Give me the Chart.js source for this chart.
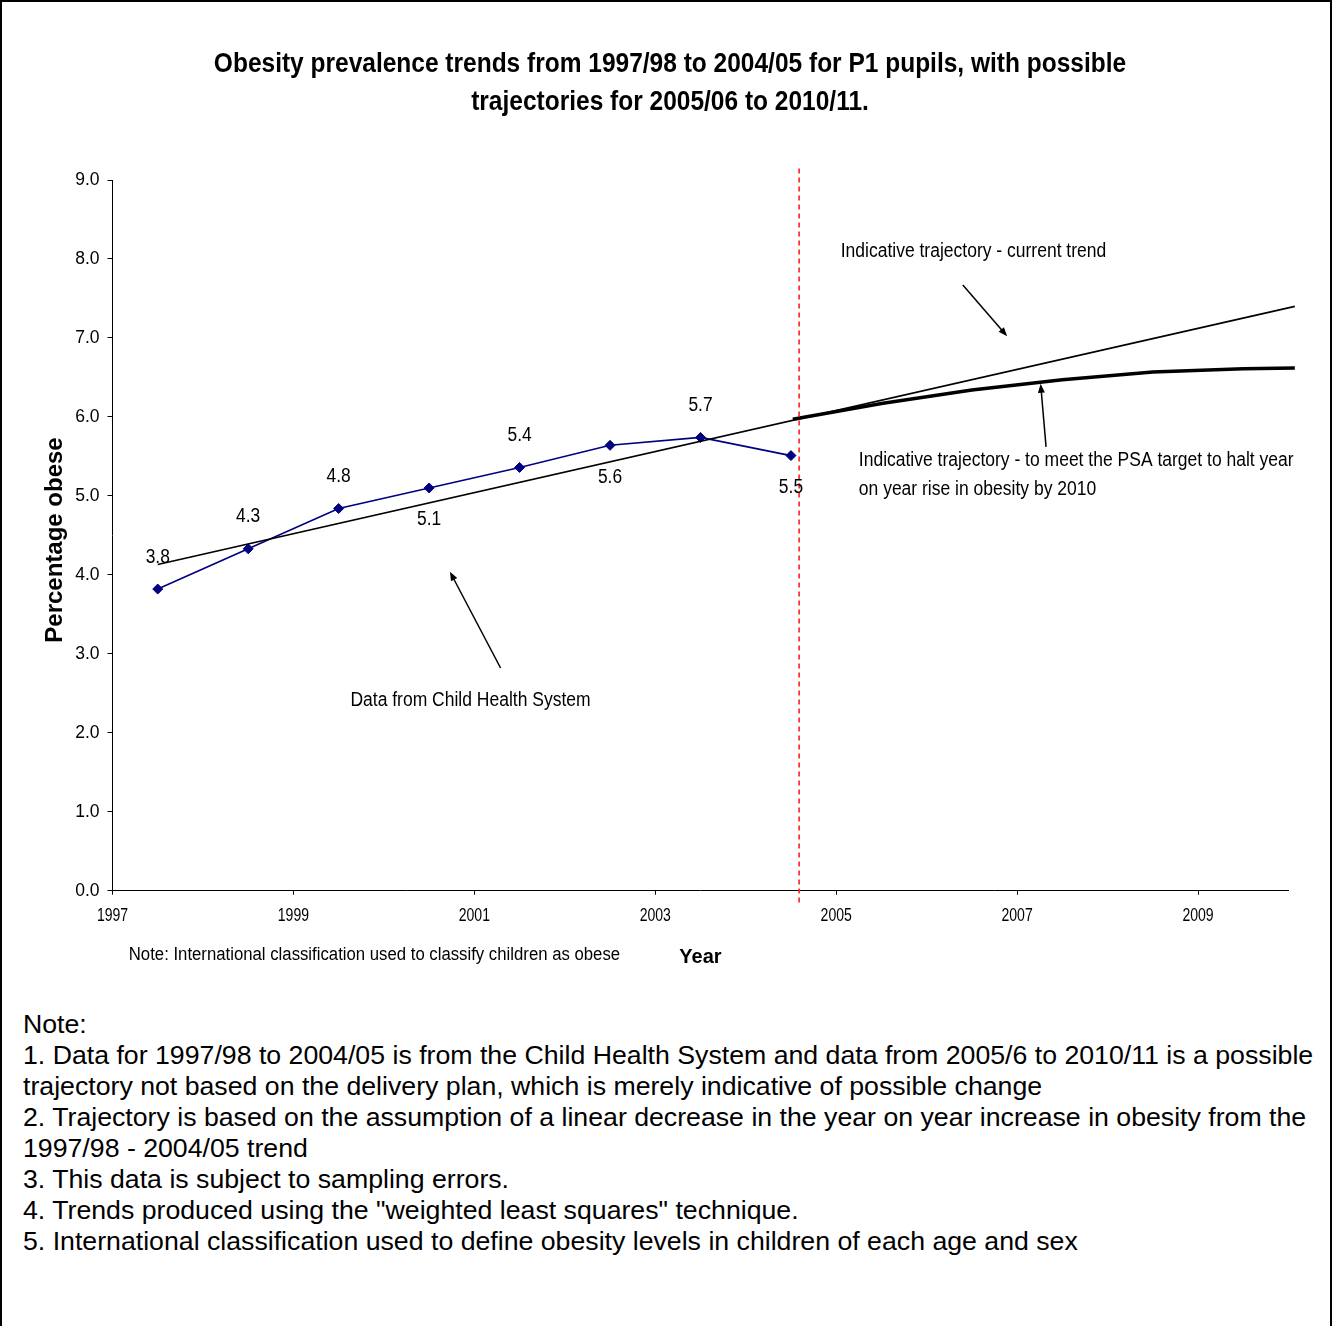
<!DOCTYPE html>
<html>
<head>
<meta charset="utf-8">
<script src="https://cdn.jsdelivr.net/npm/chart.js@4.4.1/dist/chart.umd.min.js"></script>
<style>
  html, body { margin: 0; padding: 0; background: #fff; }
  #page { position: relative; width: 1332px; height: 1326px; box-sizing: border-box;
          border-left: 2px solid #000; border-top: 2px solid #000; border-right: 2px solid #000; }
  #wrap { position: absolute; left: -2px; top: -2px; width: 1332px; height: 1000px; }
  #notes { position: absolute; left: 21px; top: 1007px; font-family: "Liberation Sans", Arial, sans-serif;
           font-size: 26.7px; line-height: 31px; color: #000; white-space: nowrap; }
</style>
</head>
<body>
<div id="page">
  <div id="wrap"><canvas id="myChart" width="1332" height="1000"></canvas></div>
  <div id="notes">
    Note:<br>
    1. Data for 1997/98 to 2004/05 is from the Child Health System and data from 2005/6 to 2010/11 is a possible<br>
    trajectory not based on the delivery plan, which is merely indicative of possible change<br>
    2. Trajectory is based on the assumption of a linear decrease in the year on year increase in obesity from the<br>
    1997/98 - 2004/05 trend<br>
    3. This data is subject to sampling errors.<br>
    4. Trends produced using the "weighted least squares" technique.<br>
    5. International classification used to define obesity levels in children of each age and sex
  </div>
</div>
<script>
var regular = '"Liberation Sans", Arial, sans-serif';

// measured data (school year plotted at mid-year)
var years = [1997.5, 1998.5, 1999.5, 2000.5, 2001.5, 2002.5, 2003.5, 2004.5];
var obese = [3.82, 4.33, 4.84, 5.10, 5.36, 5.64, 5.74, 5.51];
var obeseLabels = ['3.8', '4.3', '4.8', '5.1', '5.4', '5.6', '5.7', '5.5'];
var labelSide = [1, 1, 1, -1, 1, -1, 1, -1];

// trend line (current trend)
var trendYears = [1997.5, 2010.07];
var trendValues = [4.13, 7.40];

// trajectory to halt rise by 2010
var trajYears = [2004.52, 2005.5, 2006.5, 2007.5, 2008.5, 2009.5, 2010.07];
var trajValues = [5.97, 6.17, 6.34, 6.47, 6.57, 6.61, 6.62];

// boundary between data and projection
var cutYear = 2004.59;
var cutRange = [-0.15, 9.17];

var tickYears = [1997, 1999, 2001, 2003, 2005, 2007, 2009];

var titleLines = ['Obesity prevalence trends from 1997/98 to 2004/05 for P1 pupils, with possible',
                  'trajectories for 2005/06 to 2010/11.'];
var yTitle = 'Percentage obese';

// callouts, in data coordinates
var callouts = [
    { text: ['Indicative trajectory - current trend'], x: 2005.05, y: 8.09 },
    { text: ['Indicative trajectory - to meet the PSA target to halt year', 'on year rise in obesity by 2010'], x: 2005.25, y: 5.45 },
    { text: ['Data from Child Health System'], x: 1999.63, y: 2.41 }
];
var arrows = [
    { from: [2006.40, 7.67], to: [2006.89, 7.02] },
    { from: [2007.32, 5.62], to: [2007.26, 6.42] },
    { from: [2001.29, 2.82], to: [2000.73, 4.04] }
];
var footNote = { text: 'Note: International classification used to classify children as obese', x: 1997.18, y: -0.82 };

function pts(xs, ys) {
    return xs.map(function (x, i) { return { x: x, y: ys[i] }; });
}

// the original uses a narrow face; squeeze the regular one to match
function narrowText(c, text, x, y, ratio) {
    c.fillText(text, x, y, c.measureText(text).width * ratio);
}

var annotate = {
    id: 'annotate',
    afterDraw: function (chart) {
        var c = chart.ctx, sx = chart.scales.x, sy = chart.scales.y;
        c.save();
        c.fillStyle = '#000';
        c.strokeStyle = '#000';

        // title
        c.font = 'bold 28px ' + regular;
        c.textAlign = 'center';
        c.textBaseline = 'alphabetic';
        titleLines.forEach(function (t, i) { narrowText(c, t, 670, 72 + i * 38, 0.875); });

        // y axis title
        c.save();
        c.translate(55, 540);
        c.rotate(-Math.PI / 2);
        c.font = 'bold 24px ' + regular;
        c.textBaseline = 'middle';
        c.fillText(yTitle, 0, 0);
        c.restore();

        // x tick labels
        c.font = '18px ' + regular;
        c.textBaseline = 'middle';
        tickYears.forEach(function (v) {
            narrowText(c, String(v), sx.getPixelForValue(v), 916, 0.78);
        });

        // point labels
        c.font = '20px ' + regular;
        years.forEach(function (yr, i) {
            var px = sx.getPixelForValue(yr), py = sy.getPixelForValue(obese[i]);
            narrowText(c, obeseLabels[i], px, py - labelSide[i] * 32, 0.87);
        });

        // callout texts
        c.textAlign = 'left';
        callouts.forEach(function (a) {
            var px = sx.getPixelForValue(a.x), py = sy.getPixelForValue(a.y);
            a.text.forEach(function (t, j) { narrowText(c, t, px, py + j * 29, 0.875); });
        });

        // arrows
        c.lineWidth = 1.5;
        arrows.forEach(function (a) {
            var x1 = sx.getPixelForValue(a.from[0]), y1 = sy.getPixelForValue(a.from[1]);
            var x2 = sx.getPixelForValue(a.to[0]), y2 = sy.getPixelForValue(a.to[1]);
            var ang = Math.atan2(y2 - y1, x2 - x1);
            c.beginPath();
            c.moveTo(x1, y1);
            c.lineTo(x2 - 6 * Math.cos(ang), y2 - 6 * Math.sin(ang));
            c.stroke();
            c.beginPath();
            c.moveTo(x2, y2);
            c.lineTo(x2 - 9 * Math.cos(ang) + 3.5 * Math.sin(ang), y2 - 9 * Math.sin(ang) - 3.5 * Math.cos(ang));
            c.lineTo(x2 - 9 * Math.cos(ang) - 3.5 * Math.sin(ang), y2 - 9 * Math.sin(ang) + 3.5 * Math.cos(ang));
            c.closePath();
            c.fill();
        });

        // note under the axis
        c.font = '18px ' + regular;
        narrowText(c, footNote.text, sx.getPixelForValue(footNote.x), sy.getPixelForValue(footNote.y), 0.93);
        c.restore();
    }
};

var ctx = document.getElementById('myChart').getContext('2d');

var myChart = new Chart(ctx, {
    type: 'line',
    data: {
        datasets: [{
            label: 'Cut-off',
            data: pts([cutYear, cutYear], cutRange),
            borderColor: '#ff2020',
            borderWidth: 1.6,
            borderDash: [5, 4],
            pointRadius: 0,
            clip: false
        }, {
            label: 'Current trend',
            data: pts(trendYears, trendValues),
            borderColor: '#000',
            borderWidth: 1.6,
            pointRadius: 0,
            clip: false
        }, {
            label: 'PSA trajectory',
            data: pts(trajYears, trajValues),
            borderColor: '#000',
            borderWidth: 3.5,
            pointRadius: 0,
            clip: false
        }, {
            label: 'Child Health System',
            data: pts(years, obese),
            borderColor: '#000080',
            backgroundColor: '#000080',
            borderWidth: 1.6,
            pointStyle: 'rectRot',
            pointRadius: 5,
            pointBorderWidth: 1
        }]
    },
    options: {
        responsive: false,
        animation: false,
        devicePixelRatio: 1,
        layout: { padding: { left: 0, right: 43.5, top: 180, bottom: 19.3 } },
        plugins: {
            legend: { display: false },
            tooltip: { enabled: false },
            title: { display: false }
        },
        scales: {
            x: {
                type: 'linear',
                min: 1997,
                max: 2010,
                afterBuildTicks: function (scale) {
                    scale.ticks = tickYears.map(function (v) { return { value: v }; });
                },
                afterFit: function (scale) { scale.height = 90; },
                ticks: { display: false },
                grid: { drawOnChartArea: false, drawTicks: true, tickLength: 4, color: '#000' },
                border: { color: '#000', width: 1 },
                title: {
                    display: true,
                    text: 'Year',
                    color: '#000',
                    font: { family: regular, size: 20, weight: 'bold', lineHeight: 1.2 },
                    padding: { bottom: 11.2 }
                }
            },
            y: {
                min: 0,
                max: 9,
                afterFit: function (scale) { scale.width = 112.5; },
                ticks: {
                    stepSize: 1,
                    color: '#000',
                    font: { family: regular, size: 17.5 },
                    padding: 8,
                    callback: function (v) { return v.toFixed(1); }
                },
                grid: { drawOnChartArea: false, drawTicks: true, tickLength: 5, color: '#000' },
                border: { color: '#000', width: 1 },
                title: { display: false }
            }
        }
    },
    plugins: [annotate]
});
</script>
</body>
</html>
